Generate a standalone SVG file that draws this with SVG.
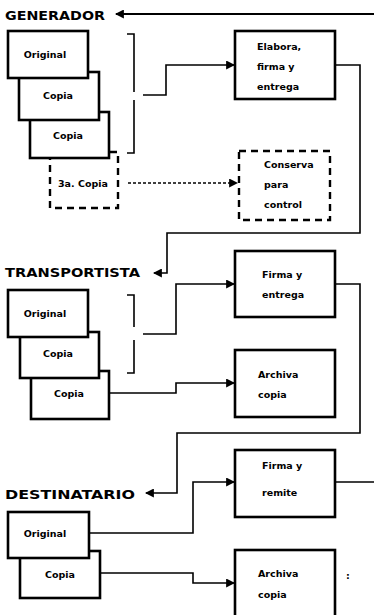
<svg xmlns="http://www.w3.org/2000/svg" width="374" height="615" viewBox="0 0 374 615">
<defs>
<style>
.box{fill:#fff;stroke:#000;stroke-width:2.6}
.dbox{fill:#fff;stroke:#000;stroke-width:2.4;stroke-dasharray:7 5}
.ln{fill:none;stroke:#000;stroke-width:1.6}
.dot{fill:none;stroke:#000;stroke-width:1.4;stroke-dasharray:3 2}
.lbl{font-family:"DejaVu Sans",sans-serif;font-weight:bold;font-size:9.5px;fill:#000}
.hdr{font-family:"DejaVu Sans",sans-serif;font-weight:bold;font-size:13px;fill:#000}
</style>
<marker id="ah" viewBox="0 0 8 8" refX="7" refY="4" markerWidth="9" markerHeight="9" markerUnits="userSpaceOnUse" orient="auto">
<path d="M0,0 L8,4 L0,8 Z" fill="#000"/>
</marker>
</defs>
<rect width="374" height="615" fill="#fff"/>

<g id="connectors">
<path class="ln" style="stroke-width:2.2" d="M374,14 H116" marker-end="url(#ah)"/>
<path class="ln" d="M127,34 H134 V92 M134,100 V153 H127"/>
<path class="ln" d="M143,95 H166 V65 H234" marker-end="url(#ah)"/>
<path class="ln" d="M335,65 H360 V233 H167 V273 H154" marker-end="url(#ah)"/>
<path class="dot" d="M128,183 H237" marker-end="url(#ah)"/>
<path class="ln" d="M127,295 H134 V327 M134,340 V373 H127"/>
<path class="ln" d="M143,334 H176 V284 H234" marker-end="url(#ah)"/>
<path class="ln" d="M335,284 H360 V433 H177 V493 H146" marker-end="url(#ah)"/>
<path class="ln" d="M109,393 H176 V383 H234" marker-end="url(#ah)"/>
<path class="ln" d="M89,533 H193 V482 H234" marker-end="url(#ah)"/>
<path class="ln" d="M335,482 H374"/>
<path class="ln" d="M100,573 H193 V583 H234" marker-end="url(#ah)"/>
</g>

<g id="hdr-generador"><text class="hdr" x="5" y="20" textLength="100" lengthAdjust="spacingAndGlyphs">GENERADOR</text></g>
<g id="hdr-transportista"><text class="hdr" x="5" y="277" textLength="135" lengthAdjust="spacingAndGlyphs">TRANSPORTISTA</text></g>
<g id="hdr-destinatario"><text class="hdr" x="5" y="499" textLength="130" lengthAdjust="spacingAndGlyphs">DESTINATARIO</text></g>

<g id="gen-3a-copia"><rect class="dbox" x="50" y="152" width="68" height="56"/><text class="lbl" x="58" y="187">3a. Copia</text></g>
<g id="gen-copia2"><rect class="box" x="30" y="112" width="79" height="46"/><text class="lbl" x="68" y="139" text-anchor="middle">Copia</text></g>
<g id="gen-copia1"><rect class="box" x="19" y="72" width="80" height="48"/><text class="lbl" x="58" y="99" text-anchor="middle">Copia</text></g>
<g id="gen-original"><rect class="box" x="8" y="31" width="80" height="47"/><text class="lbl" x="45" y="58" text-anchor="middle">Original</text></g>

<g id="gen-elabora"><rect class="box" x="235" y="31" width="100" height="68"/>
<text class="lbl" x="257" y="50">Elabora,</text><text class="lbl" x="257" y="70">firma y</text><text class="lbl" x="257" y="90">entrega</text></g>
<g id="gen-conserva"><rect class="dbox" x="239" y="151" width="91" height="69"/>
<text class="lbl" x="264" y="168">Conserva</text><text class="lbl" x="264" y="188">para</text><text class="lbl" x="264" y="208">control</text></g>

<g id="tr-copia2"><rect class="box" x="31" y="371" width="78" height="48"/><text class="lbl" x="69" y="397" text-anchor="middle">Copia</text></g>
<g id="tr-copia1"><rect class="box" x="20" y="332" width="79" height="46"/><text class="lbl" x="58" y="357" text-anchor="middle">Copia</text></g>
<g id="tr-original"><rect class="box" x="8" y="290" width="80" height="47"/><text class="lbl" x="45" y="317" text-anchor="middle">Original</text></g>
<g id="tr-firma"><rect class="box" x="235" y="251" width="100" height="66"/>
<text class="lbl" x="262" y="278">Firma y</text><text class="lbl" x="262" y="298">entrega</text></g>
<g id="tr-archiva"><rect class="box" x="235" y="350" width="100" height="67"/>
<text class="lbl" x="258" y="378">Archiva</text><text class="lbl" x="258" y="398">copia</text></g>

<g id="de-copia"><rect class="box" x="20" y="551" width="80" height="47"/><text class="lbl" x="60" y="578" text-anchor="middle">Copia</text></g>
<g id="de-original"><rect class="box" x="8" y="512" width="81" height="46"/><text class="lbl" x="45" y="537" text-anchor="middle">Original</text></g>
<g id="de-firma"><rect class="box" x="235" y="450" width="100" height="67"/>
<text class="lbl" x="262" y="469">Firma y</text><text class="lbl" x="262" y="496">remite</text></g>
<g id="de-archiva"><rect class="box" x="235" y="550" width="100" height="75"/>
<text class="lbl" x="258" y="577">Archiva</text><text class="lbl" x="258" y="598">copia</text>
<text class="lbl" x="346" y="579">:</text></g>
</svg>
